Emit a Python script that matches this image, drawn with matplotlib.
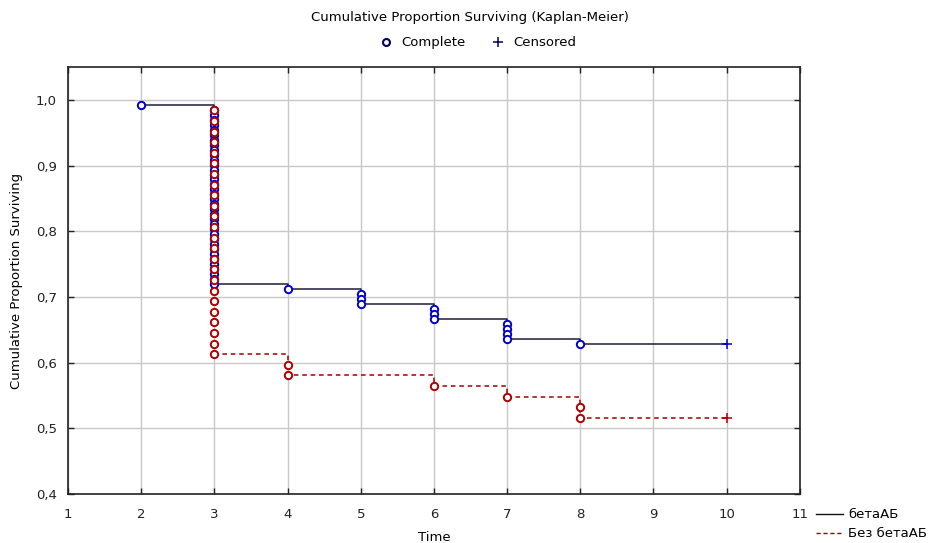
import numpy as np
import matplotlib.pyplot as plt
from matplotlib.lines import Line2D

plt.rcParams['font.family'] = ['DejaVu Sans']
FS = 9.5

# Group sizes and event counts read from the steps
n_beta = 132
t_beta = [2, 3, 4, 5, 6, 7, 8]
d_beta = [1, 36, 1, 3, 3, 4, 1]

n_nobeta = 62
t_nobeta = [3, 4, 6, 7, 8]
d_nobeta = [24, 2, 1, 1, 2]

t_censor = 10
x_ticks = [1, 2, 3, 4, 5, 6, 7, 8, 9, 10, 11]
y_ticks = [0.4, 0.5, 0.6, 0.7, 0.8, 0.9, 1.0]


def km(n, times, deaths):
    # survival after each event time, plus every single-event value for markers
    step_y, mk_x, mk_y = [], [], []
    left = n
    for t, d in zip(times, deaths):
        for k in range(d):
            left -= 1
            mk_x.append(t)
            mk_y.append(left / n)
        step_y.append(left / n)
    return step_y, mk_x, mk_y


fig = plt.figure(figsize=(9.3, 5.43), dpi=100)
ax = fig.add_axes([0.0731, 0.0902, 0.7869, 0.7864])

groups = [
    (n_beta, t_beta, d_beta, '#1c1c3a', '-', '#0000cc'),
    (n_nobeta, t_nobeta, d_nobeta, '#a00000', (0, (3, 2.5)), '#b00000'),
]
for n, tt, dd, lc, ls, mc in groups:
    sy, mx, my = km(n, tt, dd)
    ax.plot(tt + [t_censor], sy + [sy[-1]], drawstyle='steps-post',
            color=lc, ls=ls, lw=1.1, zorder=3)
    ax.plot(mx, my, 'o', ms=5.3, mfc='white', mec=mc, mew=1.4, zorder=4)
    ax.plot([t_censor], [sy[-1]], '+', ms=7, mec=mc, mew=1.1, zorder=4)

ax.set_xlim(1, 11)
ax.set_ylim(0.4, 1.05)
ax.set_xticks(x_ticks)
ax.set_yticks(y_ticks)
ax.set_yticklabels([f'{v:.1f}'.replace('.', ',') for v in y_ticks])
ax.grid(True, color='#c8c8c8', lw=1)
ax.set_axisbelow(True)
ax.tick_params(direction='in', top=True, right=True, labelsize=FS,
               length=4, width=1, colors='#222222')
ax.tick_params(axis='x', pad=10)
ax.tick_params(axis='y', pad=8)
for s in ax.spines.values():
    s.set_linewidth(1.2)
    s.set_color('#222222')

ax.set_xlabel('Time', fontsize=FS, labelpad=7)
ax.set_ylabel('Cumulative Proportion Surviving', fontsize=FS, labelpad=9)

fig.text(0.505, 0.967, 'Cumulative Proportion Surviving (Kaplan-Meier)',
         ha='center', va='center', fontsize=FS)

top_handles = [
    Line2D([], [], ls='none', marker='o', ms=5, mfc='white', mec='#00005a', mew=1.5),
    Line2D([], [], ls='none', marker='+', ms=7, mec='#00005a', mew=1.1),
]
fig.legend(top_handles, ['Complete', 'Censored'], loc='center',
           bbox_to_anchor=(0.513, 0.921), ncol=2, frameon=False, fontsize=FS,
           handlelength=1.2, handletextpad=0.6, columnspacing=1.8)

bot_handles = [
    Line2D([], [], color='#111111', lw=1),
    Line2D([], [], color='#a00000', lw=1, ls=(0, (3, 2))),
]
fig.legend(bot_handles, ['бетаАБ', 'Без бетаАБ'], loc='lower left',
           bbox_to_anchor=(0.868, -0.012), frameon=False, fontsize=FS,
           handlelength=2.0, handletextpad=0.4, labelspacing=0.45, borderpad=0.2)

fig.savefig('out.png', dpi=100)
